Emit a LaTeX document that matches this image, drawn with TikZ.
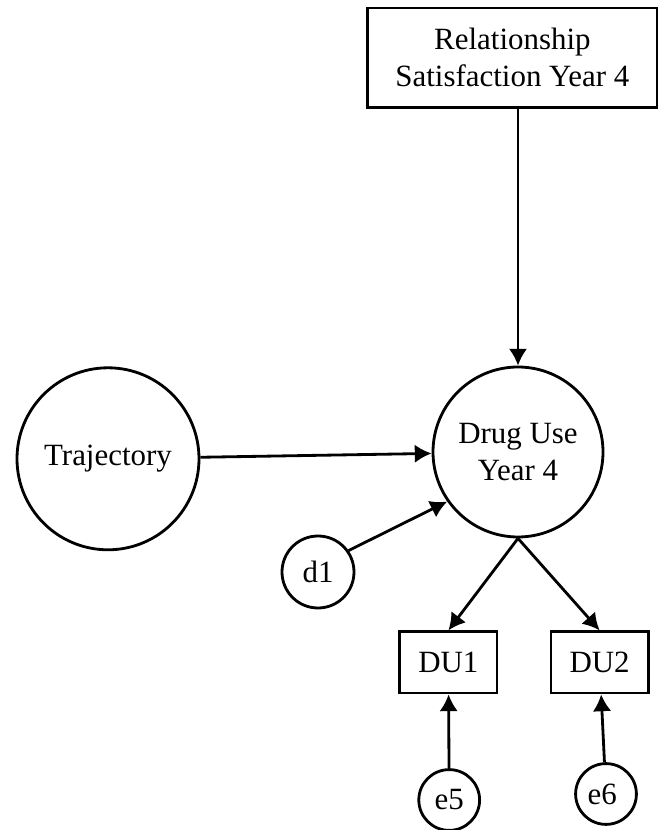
\documentclass[tikz,border=0pt]{standalone}
\usepackage{fontspec}
\setmainfont{Liberation Serif}
\usetikzlibrary{arrows.meta}

\begin{document}
\begin{tikzpicture}[
        font=\fontsize{22}{26}\selectfont,
        line width=2pt,
        obs/.style={draw, rectangle, align=center, inner sep=0pt},
        lat/.style={draw, circle, align=center, inner sep=0pt},
        link/.style={-{Latex[length=0.42cm,width=0.46cm]}}
    ]
        \useasboundingbox (0,0) rectangle (16.5,20.75);

        % Variables
        \node[obs, minimum width=7.23cm, minimum height=2.48cm] (rel) at (12.81, 19.31) {Relationship\\Satisfaction Year 4};
        \node[lat, minimum size=4.25cm] (du) at (12.95, 9.45) {Drug Use\\Year 4};
        \node[lat, minimum size=4.55cm] (traj) at (2.7, 9.28) {Trajectory};
        \node[lat, minimum size=1.8cm] (d1) at (7.95, 6.45) {d1};

        % Indicadores
        \foreach \name/\x/\ex/\ey/\err in {
            du1/11.21/11.23/0.75/e5,
            du2/14.99/15.15/0.9/e6
            } {
            \node[obs, minimum width=2.43cm, minimum height=1.53cm] (\name) at (\x, 4.19) {\MakeUppercase{\name}};
            \node[lat, minimum size=1.52cm] (\err) at (\ex, \ey) {\err};
            \draw[link] (du.south) -- (\name.north);
            \draw[link] (\err) -- (\name);
        }

        % Caminos
        \draw[link] (du.north |- rel.south) -- (du.north);
        \draw[link] (traj) -- (du);
        \draw[link] (d1.35) -- (du.215);
    \end{tikzpicture}
\end{document}
